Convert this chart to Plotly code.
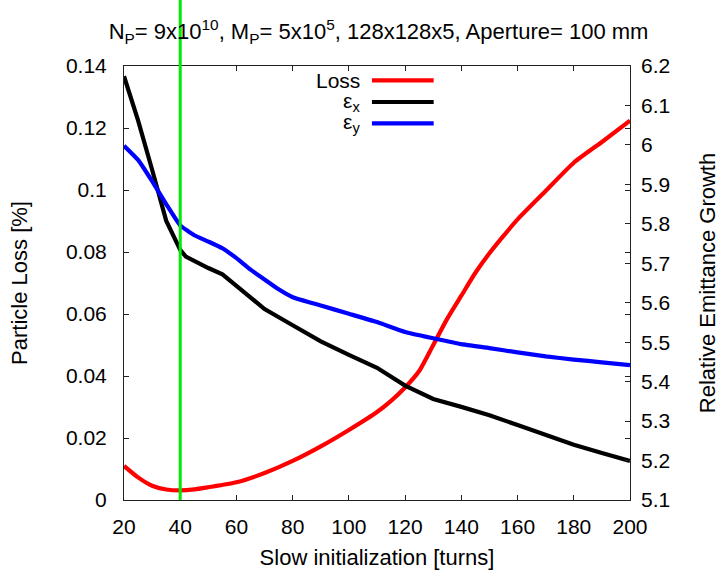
import plotly.graph_objects as go

# Slow initialization length [turns]
turns_loss = [20, 25, 30, 35, 40, 45, 50, 60, 70, 80, 90, 100, 110, 115, 120, 125,
              130, 135, 140, 145, 150, 155, 160, 170, 180, 190, 200]
# Particle loss [%]
loss = [0.0110, 0.0073, 0.0046, 0.0034, 0.0031, 0.0034, 0.0041, 0.0057, 0.0087,
        0.0126, 0.0173, 0.0226, 0.0284, 0.0320, 0.0363, 0.0416, 0.0500, 0.0585,
        0.0659, 0.0733, 0.0796, 0.0852, 0.0905, 0.0997, 0.1088, 0.1155, 0.1224]

turns_ex = [20, 25, 30, 35, 40, 42, 50, 55, 60, 70, 80, 90, 100, 110, 120, 130,
            140, 150, 160, 170, 180, 190, 200]
# Relative emittance growth, horizontal
eps_x = [6.174, 6.062, 5.937, 5.808, 5.734, 5.717, 5.688, 5.672, 5.643, 5.584,
         5.543, 5.502, 5.468, 5.435, 5.390, 5.356, 5.336, 5.315, 5.290, 5.265,
         5.240, 5.219, 5.199]

turns_ey = [20, 25, 30, 35, 40, 45, 50, 55, 60, 65, 70, 75, 80, 90, 100, 110, 120,
            130, 140, 150, 160, 170, 180, 190, 200]
# Relative emittance growth, vertical
eps_y = [5.998, 5.962, 5.908, 5.850, 5.796, 5.771, 5.755, 5.738, 5.713, 5.684,
         5.659, 5.634, 5.614, 5.593, 5.572, 5.551, 5.526, 5.510, 5.495, 5.485,
         5.474, 5.464, 5.456, 5.449, 5.442]

# Chosen initialization length
marked_turns = 40

FONT = "Liberation Sans, Arial, sans-serif"
TICK_SIZE = 21
TITLE_SIZE = 22
LW = 4.2

fig = go.Figure()
fig.add_trace(go.Scatter(x=turns_loss, y=loss, mode="lines", name="Loss",
                         line=dict(color="#ff0000", width=LW, shape="spline", smoothing=0.6),
                         yaxis="y"))
fig.add_trace(go.Scatter(x=turns_ex, y=eps_x, mode="lines", name="εx",
                         line=dict(color="#000000", width=LW), yaxis="y2"))
fig.add_trace(go.Scatter(x=turns_ey, y=eps_y, mode="lines", name="εy",
                         line=dict(color="#0000ff", width=LW, shape="spline", smoothing=0.4),
                         yaxis="y2"))

# vertical marker, running up past the frame into the title area
fig.add_shape(type="line", xref="x", yref="paper", x0=marked_turns, x1=marked_turns,
              y0=0, y1=1.16, line=dict(color="rgb(0,235,0)", width=3), layer="above")

# key: label text followed by line sample
legend_rows = [("Loss", "#ff0000", 0.967), ("ε<sub>x</sub>", "#000000", 0.917),
               ("ε<sub>y</sub>", "#0000ff", 0.868)]
for label, color, yy in legend_rows:
    fig.add_annotation(xref="paper", yref="paper", x=0.470, y=yy, text=label,
                       showarrow=False, xanchor="right", yanchor="middle",
                       font=dict(family=FONT, size=TICK_SIZE, color="black"))
    fig.add_shape(type="line", xref="paper", yref="paper", x0=0.490, x1=0.612,
                  y0=yy, y1=yy, line=dict(color=color, width=LW))

axis_common = dict(showgrid=False, zeroline=False, ticks="inside", ticklen=5,
                   tickcolor="#222",
                   tickfont=dict(family=FONT, size=TICK_SIZE, color="black"))

fig.update_layout(
    width=728, height=578,
    margin=dict(l=124, r=96, t=66, b=70),
    paper_bgcolor="white", plot_bgcolor="white",
    showlegend=False,
    font=dict(family=FONT, size=TICK_SIZE, color="black"),
    title=dict(text="N<sub>P</sub>= 9x10<sup>10</sup>, M<sub>P</sub>= 5x10<sup>5</sup>, "
                    "128x128x5, Aperture= 100 mm",
               x=0.52, xanchor="center", y=0.945, yanchor="middle",
               font=dict(family=FONT, size=TITLE_SIZE, color="black")),
    xaxis=dict(range=[20, 200], dtick=20, tick0=20, showline=True, linecolor="#222",
               linewidth=1, mirror="ticks", ticklabelstandoff=8,
               title=dict(text="Slow initialization [turns]", standoff=12,
                          font=dict(family=FONT, size=TITLE_SIZE)),
               **axis_common),
    yaxis=dict(range=[0, 0.14], dtick=0.02, showline=True, linecolor="#222",
               linewidth=1, mirror="ticks", ticklabelstandoff=12,
               title=dict(text="Particle Loss [%]", standoff=32,
                          font=dict(family=FONT, size=TITLE_SIZE)),
               **axis_common),
    yaxis2=dict(range=[5.1, 6.2], dtick=0.1, overlaying="y", side="right",
                showline=False, ticklabelstandoff=10,
                title=dict(text="Relative Emittance Growth", standoff=30,
                           font=dict(family=FONT, size=TITLE_SIZE)),
                **axis_common),
)

fig.write_html("out.html")
